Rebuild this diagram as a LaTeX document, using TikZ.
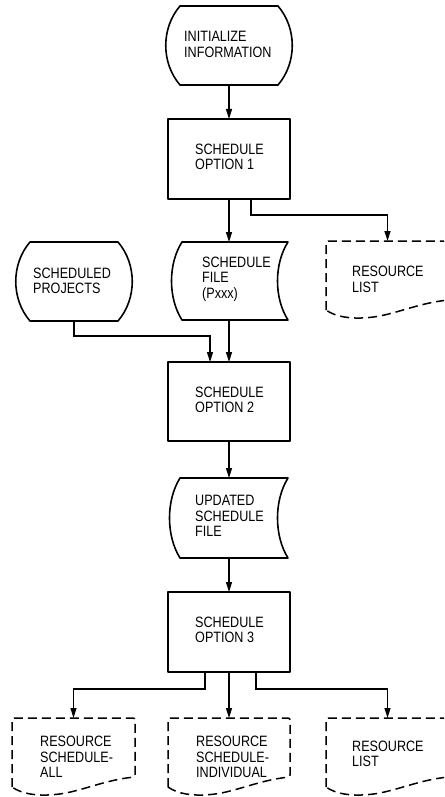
\documentclass[tikz,border=0pt]{standalone}
\usepackage{fontspec}
\setmainfont[FakeStretch=0.84]{Liberation Sans}
\usetikzlibrary{arrows.meta,calc}

\tikzset{
  outline/.style={line width=1.6pt, line join=round},
  dashedline/.style={line width=1.5pt, dash pattern=on 9pt off 5pt, rounded corners=2pt},
  flow/.style={line width=1.5pt, -{Triangle[length=10pt,width=6pt]}},
  frame/.style={inner sep=0pt, outer sep=0pt, minimum width=#1},
  procbox/.style={draw, outline, inner sep=0pt, outer sep=0pt, minimum width=122pt, minimum height=80pt},
  label/.style={inner sep=0pt, anchor=west, align=left, font=\fontsize{15pt}{15.5pt}\selectfont}
}

% terminal outline: flat top and bottom, both sides bulging outwards
\newcommand\termoutline[2]{%
  \draw[outline] (#1.north west) -- (#1.north east)
    .. controls ($(#1.north east)!0.28!(#1.south east)+(#2,0)$) and ($(#1.north east)!0.72!(#1.south east)+(#2,0)$) .. (#1.south east)
    -- (#1.south west)
    .. controls ($(#1.south west)!0.28!(#1.north west)+(-#2,0)$) and ($(#1.south west)!0.72!(#1.north west)+(-#2,0)$) .. (#1.north west) -- cycle;}

% stored-data outline: both sides curving to the left
\newcommand\storeoutline[2]{%
  \draw[outline] (#1.north west) -- (#1.north east)
    .. controls ($(#1.north east)!0.28!(#1.south east)+(-#2,0)$) and ($(#1.north east)!0.72!(#1.south east)+(-#2,0)$) .. (#1.south east)
    -- (#1.south west)
    .. controls ($(#1.south west)!0.28!(#1.north west)+(-#2,0)$) and ($(#1.south west)!0.72!(#1.north west)+(-#2,0)$) .. (#1.north west) -- cycle;}

% dashed report outline with a wavy bottom edge
\newcommand\docoutline[2]{%
  \draw[dashedline] (#1.south west) -- (#1.north west) -- (#1.north east)
    -- ($(#1.north east)+(0,59)$)
    .. controls ($(#1.north west)+(0.75*#2,62)$) and ($(#1.north west)+(0.55*#2,74)$) .. ($(#1.north west)+(0.35*#2,76.5)$)
    .. controls ($(#1.north west)+(0.2*#2,78)$) and ($(#1.north west)+(0.08*#2,76)$) .. (#1.south west);}

\begin{document}
\begin{tikzpicture}[x=1pt,y=-1pt]
\clip (0,0) rectangle (444,797);

% shape frames
\node[frame=98pt, minimum height=79pt] (init) at (229,45.5) {};
\node[procbox] (so1) at (229,159) {};
\node[frame=88pt, minimum height=79pt] (sp) at (74,281.5) {};
\node[frame=106pt, minimum height=78pt] (sf) at (235,281) {};
\node[frame=123pt, minimum height=69pt] (rl1) at (387.5,275.5) {};
\node[procbox, minimum height=79pt] (so2) at (229,401.5) {};
\node[frame=108pt, minimum height=80pt] (usf) at (234,518) {};
\node[procbox] (so3) at (229,632) {};
\node[frame=123pt, minimum height=69pt] (rsa) at (73.5,752.5) {};
\node[frame=122pt, minimum height=69pt] (rsi) at (229,752.5) {};
\node[frame=123pt, minimum height=69pt] (rl2) at (387.5,752.5) {};

% outlines
\termoutline{init}{19}
\termoutline{sp}{19}
\storeoutline{sf}{14}
\storeoutline{usf}{14}
\docoutline{rl1}{123}
\docoutline{rsa}{123}
\docoutline{rsi}{122}
\docoutline{rl2}{123}

% texts
\node[label] (tinit) at (184,44.5) {INITIALIZE\\INFORMATION};
\node[label] (tso1) at (195,157) {SCHEDULE\\OPTION 1};
\node[label] (tsp) at (33,281) {SCHEDULED\\PROJECTS};
\node[label] (tsf) at (202,279) {SCHEDULE\\FILE\\(Pxxx)};
\node[label] (trl1) at (352,279.5) {RESOURCE\\LIST};
\node[label] (tso2) at (195,400) {SCHEDULE\\OPTION 2};
\node[label] (tusf) at (195,516) {UPDATED\\SCHEDULE\\FILE};
\node[label] (tso3) at (195,630) {SCHEDULE\\OPTION 3};
\node[label] (trsa) at (40,757) {RESOURCE\\SCHEDULE-\\ALL};
\node[label] (trsi) at (196,757) {RESOURCE\\SCHEDULE-\\INDIVIDUAL};
\node[label] (trl2) at (352,754) {RESOURCE\\LIST};

% connectors
\draw[flow] (init.south) -- (so1.north);
\draw[flow] (so1.south) -- (so1.south |- sf.north);
\draw[flow] ($(so1.south)+(22,0)$) -- ++(0,16) -| (rl1.north);
\draw[flow] (sp.south) -- ++(0,15) -| ($(so2.north)+(-19,0)$);
\draw[flow] (so1.south |- sf.south) -- (so2.north);
\draw[flow] (so2.south) -- (so2.south |- usf.north);
\draw[flow] (so2.south |- usf.south) -- (so3.north);
\draw[flow] (so3.south) -- (rsi.north);
\draw[flow] ($(so3.south)+(-24,0)$) -- ++(0,17) -| (rsa.north);
\draw[flow] ($(so3.south)+(27,0)$) -- ++(0,17) -| (rl2.north);
\end{tikzpicture}
\end{document}
